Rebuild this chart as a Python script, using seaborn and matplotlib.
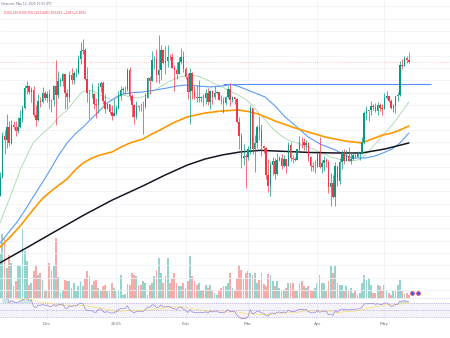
import numpy as np
import pandas as pd
import matplotlib
matplotlib.use("Agg")
import matplotlib.pyplot as plt
import seaborn as sns

sns.set_theme(style="white")
plt.rcParams['font.family'] = ['DejaVu Sans']

# ---------------- data (BTC daily, thousands USD) ----------------
start_date = "2024-11-10"
end_date = "2025-05-12"

opens = [76.6, 80.4, 88.7, 87.9, 90.5, 87.3, 91.0, 90.6, 89.8, 90.5, 92.3, 94.3, 98.4, 98.9, 97.7, 98.0, 93.0, 91.9, 95.9, 95.6, 97.5,
         96.4, 97.2, 95.8, 96.0, 98.8, 97.0, 99.9, 99.9, 101.2, 97.4, 96.6, 101.1, 100.0, 101.4, 101.4, 104.3, 106.0, 106.1, 100.2, 97.5, 97.2, 97.3, 95.2, 94.9, 98.7, 99.4, 95.8, 94.2, 95.2, 93.6, 92.8,
         93.4, 94.4, 96.9, 98.1, 98.2, 98.3, 102.1, 96.9, 95.0, 92.5, 94.7, 94.6, 94.5, 94.5, 96.5, 100.5, 99.9, 104.1, 104.4, 101.1, 102.0, 106.1, 103.6, 103.9, 104.8, 104.7, 102.6, 102.1, 101.3, 103.7, 104.7,
         102.4, 100.6, 97.7, 101.4, 97.9, 96.6, 96.5, 96.5, 96.6, 96.5, 97.4, 95.7, 97.9, 96.6, 97.5, 97.6, 96.1, 95.8, 95.5, 96.6, 98.3, 96.1, 96.6, 96.3, 91.5, 88.7, 84.3, 84.7,
         84.4, 86.0, 94.3, 86.1, 87.3, 90.6, 89.9, 86.7, 86.2, 80.7, 78.5, 82.9, 83.7, 81.1, 83.9, 84.3, 82.6, 84.0, 82.7, 86.9, 84.2, 84.1, 83.8, 86.1, 87.5, 87.4, 86.9, 87.2, 84.4, 82.6, 82.4,
         82.5, 85.2, 82.5, 83.2, 83.9, 83.5, 78.4, 79.2, 76.3, 82.6, 79.6, 83.4, 85.3, 83.7, 84.6, 83.6, 84.0, 84.9, 84.5, 85.1, 85.2, 87.5, 93.4, 93.7, 93.9, 94.7, 94.6, 93.8, 94.9, 94.3,
         94.2, 96.5, 96.9, 95.9, 94.3, 94.7, 96.8, 97.0, 103.2, 102.9, 104.6, 104.13]
highs = [81.5, 89.6, 89.9, 93.2, 91.8, 91.9, 91.8, 91.7, 92.6, 94.0, 94.9, 99.0, 99.8, 98.9, 98.6, 98.9, 94.9, 97.3, 96.6, 98.7, 97.8,
         97.9, 98.2, 96.3, 99.0, 104.1, 101.9, 100.5, 101.4, 101.2, 98.3, 101.9, 102.5, 101.9, 102.6, 105.1, 107.8, 108.3, 106.5, 102.8, 98.0, 99.5, 97.4, 96.4, 99.4, 99.9, 99.9, 97.3, 95.5, 95.2, 94.9, 96.2,
         94.9, 97.8, 98.9, 98.7, 98.8, 102.5, 102.7, 97.2, 95.3, 95.8, 95.0, 95.4, 95.9, 97.4, 100.7, 100.8, 105.9, 104.9, 106.3, 109.1, 107.2, 106.4, 106.9, 107.1, 105.3, 105.5, 103.2, 103.8, 104.8, 106.5, 106.0,
         102.8, 101.5, 102.5, 101.7, 98.8, 99.1, 100.1, 96.9, 97.3, 98.3, 98.5, 98.1, 98.0, 98.8, 97.9, 97.7, 97.0, 96.7, 96.9, 98.8, 99.5, 96.9, 96.7, 96.5, 92.5, 89.3, 87.1, 85.1,
         86.6, 95.0, 94.4, 88.9, 91.0, 92.8, 91.2, 86.9, 86.5, 84.0, 83.6, 84.4, 84.3, 85.3, 84.7, 85.0, 84.8, 84.0, 87.4, 87.4, 84.8, 84.5, 86.1, 88.8, 88.5, 88.3, 87.8, 87.5, 84.6, 83.5, 83.9,
         85.5, 88.5, 83.9, 84.7, 84.2, 83.8, 81.2, 80.9, 83.5, 82.7, 84.3, 85.9, 86.1, 85.8, 86.5, 85.5, 85.5, 85.1, 85.6, 85.3, 88.5, 93.8, 94.7, 94.0, 95.8, 95.3, 95.4, 95.6, 95.5, 95.2,
         97.4, 97.9, 96.9, 96.3, 95.2, 96.9, 97.7, 103.9, 104.3, 104.9, 105.0, 105.76]
lows = [76.5, 80.2, 85.1, 86.2, 86.7, 87.1, 90.1, 88.7, 89.4, 90.3, 91.5, 94.1, 97.2, 97.2, 95.7, 92.6, 90.8, 91.8, 94.6, 95.4, 96.0,
        95.7, 94.4, 93.6, 94.7, 91.0, 96.5, 98.9, 98.8, 94.2, 94.3, 95.7, 99.3, 99.2, 100.6, 101.2, 103.3, 105.3, 100.0, 95.7, 92.2, 96.4, 94.2, 92.4, 93.4, 97.6, 95.2, 93.3, 94.1, 93.1, 91.9, 92.7,
        92.9, 94.2, 96.0, 97.2, 97.3, 97.9, 96.1, 92.5, 91.2, 92.2, 93.8, 93.7, 89.2, 94.3, 96.5, 97.3, 99.9, 102.3, 99.6, 99.5, 100.1, 103.3, 101.2, 102.8, 104.1, 102.5, 97.8, 100.3, 101.3, 103.3, 101.6,
        100.3, 96.2, 91.2, 96.2, 96.2, 95.7, 95.7, 95.7, 94.7, 95.3, 94.9, 94.1, 95.2, 96.3, 97.3, 96.1, 95.2, 93.4, 95.1, 96.4, 94.8, 95.7, 95.3, 91.4, 86.1, 82.3, 82.8, 78.2,
        83.9, 85.0, 85.1, 81.5, 86.3, 87.8, 84.7, 85.3, 80.0, 77.4, 76.6, 80.7, 79.9, 80.8, 83.6, 82.0, 82.5, 81.2, 82.7, 83.7, 83.2, 83.7, 83.8, 85.5, 86.3, 85.9, 85.8, 83.6, 81.6, 81.6, 81.3,
        82.4, 82.3, 81.2, 81.7, 82.4, 77.2, 74.5, 76.2, 74.6, 78.5, 78.9, 82.1, 83.0, 83.7, 83.6, 83.1, 83.9, 84.3, 84.4, 83.9, 85.1, 87.1, 91.9, 91.7, 92.9, 93.9, 93.6, 92.9, 93.8, 92.9,
        94.1, 96.3, 95.7, 94.1, 93.5, 93.4, 95.9, 96.9, 102.4, 102.9, 103.5, 103.45]
closes = [80.4, 88.7, 87.9, 90.5, 87.3, 91.0, 90.6, 89.8, 90.5, 92.3, 94.3, 98.4, 98.9, 97.7, 98.0, 93.0, 91.9, 95.9, 95.6, 97.5, 96.4,
          97.2, 95.8, 96.0, 98.8, 97.0, 99.9, 99.9, 101.2, 97.4, 96.6, 101.1, 100.0, 101.4, 101.4, 104.3, 106.0, 106.1, 100.2, 97.5, 97.2, 97.3, 95.2, 94.9, 98.7, 99.4, 95.8, 94.2, 95.2, 93.6, 92.8, 93.4,
          94.4, 96.9, 98.1, 98.2, 98.3, 102.1, 96.9, 95.0, 92.5, 94.7, 94.6, 94.5, 94.5, 96.5, 100.5, 99.9, 104.1, 104.4, 101.1, 102.0, 106.1, 103.6, 103.9, 104.8, 104.7, 102.6, 102.1, 101.3, 103.7, 104.7, 102.4,
          100.6, 97.7, 101.4, 97.9, 96.6, 96.5, 96.5, 96.6, 96.5, 97.4, 95.7, 97.9, 96.6, 97.5, 97.6, 96.1, 95.8, 95.5, 96.6, 98.3, 96.1, 96.6, 96.3, 91.5, 88.7, 84.3, 84.7, 84.4,
          86.0, 94.3, 86.1, 87.3, 90.6, 89.9, 86.7, 86.2, 80.7, 78.5, 82.9, 83.7, 81.1, 83.9, 84.3, 82.6, 84.0, 82.7, 86.9, 84.2, 84.1, 83.8, 86.1, 87.5, 87.4, 86.9, 87.2, 84.4, 82.6, 82.4, 82.5,
          85.2, 82.5, 83.2, 83.9, 83.5, 78.4, 79.2, 76.3, 82.6, 79.6, 83.4, 85.3, 83.7, 84.6, 83.6, 84.0, 84.9, 84.5, 85.1, 85.2, 87.5, 93.4, 93.7, 93.9, 94.7, 94.6, 93.8, 94.9, 94.3, 94.2,
          96.5, 96.9, 95.9, 94.3, 94.7, 96.8, 97.0, 103.2, 102.9, 104.6, 104.1, 103.82]
volumes = [45, 64, 60, 30, 43, 35, 12, 17, 33, 32,
           70, 47, 37, 13, 15, 27, 33, 23, 25, 18,
           7, 7, 35, 27, 33, 60, 21, 5, 8, 18,
           17, 17, 10, 15, 7, 12, 17, 12, 20, 27,
           22, 13, 17, 18, 10, 7, 12, 13, 7, 7,
           15, 10, 7, 7, 23, 3, 4, 14, 13, 25,
           23, 22, 13, 13, 17, 15, 3, 13, 15, 22,
           28, 40, 25, 15, 22, 40, 15, 20, 25, 15,
           12, 12, 15, 10, 17, 42, 22, 17, 13, 15,
           8, 8, 13, 10, 13, 8, 5, 3, 7, 10,
           12, 12, 15, 25, 10, 7, 20, 33, 28, 20,
           25, 27, 25, 23, 25, 15, 18, 25, 14, 12,
           24, 23, 17, 12, 17, 10, 8, 8, 10, 15,
           15, 15, 8, 7, 15, 17, 12, 10, 12, 8,
           8, 10, 15, 23, 15, 15, 7, 17, 32, 25,
           32, 15, 13, 13, 8, 12, 8, 10, 5, 7,
           3, 5, 15, 23, 18, 20, 13, 5, 5, 13,
           12, 8, 13, 8, 5, 3, 7, 8, 13, 18,
           8, 4, 5, 3]

# moving averages (day index, value in thousands)
ma20_days = [0, 2.2, 4.5, 9, 12.1, 14.8, 18.8, 22.4, 26, 30, 33.6, 36.7, 39.4, 41.6, 45.7, 50.1, 52.8, 55.1, 58.2, 61.3,
             63.6, 65.8, 68.5, 71.6, 75.2, 79.2, 83.7, 88.2, 92.7, 96.2, 99.4, 103, 106.5, 109.7, 112.8, 115.5, 118.6, 121.8,
             125.3, 128.9, 132.9, 137.9, 143.2, 147.7, 153.1, 156.7, 160.3, 162.5, 164.7, 168.3, 172.3, 175.5, 178.2, 180.8, 183]
ma20_vals = [71.07, 73.71, 76.34, 81.82, 84.86, 87.3, 89.12, 90.54, 92.37, 93.99, 96.02, 97.64, 98.05, 97.84, 96.83, 96.02,
             96.63, 97.03, 96.63, 96.42, 96.63, 97.03, 97.84, 98.66, 99.67, 100.48, 101.09, 100.89, 100.08, 99.26, 98.66,
             97.84, 97.03, 96.22, 95.0, 93.58, 91.96, 90.34, 88.92, 87.9, 87.3, 86.48, 85.47, 84.46, 83.85, 83.64, 83.85,
             84.46, 85.47, 87.3, 89.32, 90.95, 92.57, 94.19, 95.61]
ma50_days = [0, 3.6, 7.6, 11.2, 14.8, 18.8, 22.4, 26, 30, 33.6, 37.2, 41.2, 44.8, 47.4, 50.1, 52.8, 55.1, 59.5, 64, 69.4,
             74.8, 79.2, 83.7, 88.6, 94, 99.4, 103.8, 107.4, 111.9, 118.6, 123.1, 127.6, 132.9, 137.9, 143.2, 150, 154.4,
             157.6, 163.4, 167.9, 171.4, 175.5, 179, 183]
ma50_vals = [67.01, 69.04, 71.27, 73.71, 76.34, 79.18, 81.82, 84.66, 87.3, 89.12, 90.54, 92.37, 93.99, 95.21, 96.02, 96.83,
             97.24, 97.54, 97.64, 98.05, 98.45, 98.86, 99.06, 98.86, 98.66, 98.86, 99.16, 98.66, 97.84, 96.63, 94.8, 92.57,
             90.54, 88.51, 87.09, 85.88, 84.86, 84.25, 84.25, 84.66, 85.27, 86.08, 87.3, 89.32]
ma100_days = [0, 4.5, 9, 14.3, 19.2, 24.6, 30, 33.6, 37.2, 41.2, 44.8, 50.1, 54.2, 58.2, 64, 68, 71.6, 77.4, 83.7, 91.8,
              99.4, 106.5, 111, 115.5, 123.1, 130.7, 137.9, 145.5, 154.4, 162, 166.5, 171.4, 175.5, 179, 183]
ma100_vals = [66.2, 68.23, 70.46, 73.5, 76.14, 78.17, 79.99, 81.82, 83.24, 84.25, 84.86, 85.47, 86.48, 87.3, 88.11, 89.12,
              89.93, 91.35, 92.57, 93.38, 93.79, 93.99, 93.69, 93.18, 91.76, 90.54, 89.53, 88.51, 87.7, 87.3, 88.11, 88.92,
              89.32, 89.93, 90.74]
ma200_days = [0, 12.5, 25, 37.6, 50.1, 64, 73.9, 83.7, 91.8, 99.4, 107.4, 116.4, 128.5, 138.8, 150, 162, 172.3, 183]
ma200_vals = [63.0, 66.2, 69.45, 72.7, 75.7, 78.6, 80.8, 82.8, 84.05, 84.86, 85.47, 85.8, 85.57, 85.37, 85.27, 85.27, 86.08, 87.3]

level_price = 99.2
level_start, level_end = "2025-02-18", "2025-05-22"

month_ticks = ["2024-12-01", "2025-01-01", "2025-02-01", "2025-03-01", "2025-04-01", "2025-05-01"]
month_labels = ["Dec", "2025", "Feb", "Mar", "Apr", "May"]

header1 = "View.com, May 12, 2025 10:03 UTC"
header2 = "O104,130 H105,756 L103,449 C103,821 \u2212309 (\u22120.30%)"

# ---------------- derived ----------------
dates = pd.date_range(start_date, end_date, freq="D")
t0 = dates[0]
day = np.array([(d - t0).days for d in dates], dtype=float)
o = np.array(opens); h = np.array(highs); l = np.array(lows); c = np.array(closes)
up = c >= o
UP, DN = "#089981", "#f23645"
VUP, VDN = "#95d4cd", "#f8aaa8"

s = pd.Series(c)
delta = s.diff()
gain = delta.clip(lower=0)
loss = -delta.clip(upper=0)
ag = gain.ewm(alpha=1/14, adjust=True).mean()
al = loss.ewm(alpha=1/14, adjust=True).mean()
rsi = 100 - 100 / (1 + ag / al)
rsi_ma = rsi.rolling(14, min_periods=1).mean()

# ---------------- figure ----------------
W, H = 450, 338
fig = plt.figure(figsize=(W/100, H/100), dpi=100)
fig.patch.set_facecolor("white")

ax = fig.add_axes([0, 1 - 298/H, 1, 298/H])
axr = fig.add_axes([0, 1 - 320/H, 1, 22/H])
axv = ax.twinx()
axv.set_zorder(ax.get_zorder() - 1)
ax.patch.set_visible(False)

xlim = (-0.045, 201.4)
ticks_d = [(pd.Timestamp(t) - t0).days for t in month_ticks]

for a in (ax, axv, axr):
    a.set_xlim(*xlim)
    for sp in a.spines.values():
        sp.set_visible(False)
    a.tick_params(left=False, right=False, bottom=False, top=False, length=0,
                  labelleft=False, labelright=False, labelbottom=False)

# grid
grid_c = "#f0f3fa"
for td in ticks_d:
    ax.axvline(td, color=grid_c, lw=0.6, zorder=0)
    axr.axvline(td, color=grid_c, lw=0.6, zorder=0)
for p in np.arange(57.5, 116, 2.5):
    ax.axhline(p, color=grid_c, lw=0.6, zorder=0)

# volume
axv.set_ylim(0, 298)
axv.bar(day, volumes, width=0.8, color=np.where(up, VUP, VDN), linewidth=0)
axv.scatter([184.6, 187.0], [5, 5], s=9, facecolor="#f8aaa8", edgecolor="#f23645", linewidth=0.4, zorder=3)
axv.scatter([184.6, 187.0], [5, 5], s=2, color="#2962ff", zorder=4)
axv.set_yticks([])

# price
ax.set_ylim(55.85, 116.3)
ax.vlines(day, l, h, colors=np.where(up, UP, DN), lw=0.5, zorder=3)
body = np.maximum(np.abs(c - o), 0.12)
ax.bar(day, body, bottom=np.minimum(o, c), width=0.65, color=np.where(up, UP, DN), linewidth=0, zorder=4)

for dd, vv, col, lw in [(ma20_days, ma20_vals, "#a8d8a8", 0.6),
                        (ma50_days, ma50_vals, "#5b9cf6", 0.8),
                        (ma100_days, ma100_vals, "#ff9800", 1.2),
                        (ma200_days, ma200_vals, "#131722", 1.1)]:
    ma = pd.DataFrame({"d": dd, "v": vv})
    sns.lineplot(data=ma, x="d", y="v", ax=ax, color=col, lw=lw, zorder=2)

ls = (pd.Timestamp(level_start) - t0).days
le = (pd.Timestamp(level_end) - t0).days
ax.hlines(level_price, ls, le, color="#5b8def", lw=0.8, zorder=2)
ax.axhline(c[-1], color="#f23645", lw=0.5, ls=(0, (1, 2)), alpha=0.5, zorder=1)
ax.set_xlabel(""); ax.set_ylabel("")
ax.set_xlim(*xlim)

# RSI pane
axr.set_ylim(21.4, 84.3)
axr.axhspan(30, 70, color="#7e57c2", alpha=0.07, lw=0)
for lvl in (70, 50, 30):
    axr.axhline(lvl, color="#9c8ad0", lw=0.4, ls=(0, (2, 2)))
rd = pd.DataFrame({"d": day, "rsi": rsi, "ma": rsi_ma})
axr.fill_between(day, rsi, 70, where=rsi > 70, interpolate=True, color="#26a69a", alpha=0.25, lw=0)
axr.fill_between(day, rsi, 30, where=rsi < 30, interpolate=True, color="#f23645", alpha=0.2, lw=0)
sns.lineplot(data=rd, x="d", y="ma", ax=axr, color="#f5df6b", lw=0.5)
sns.lineplot(data=rd, x="d", y="rsi", ax=axr, color="#9b89dc", lw=0.5)
axr.set_xlabel(""); axr.set_ylabel("")
axr.set_xlim(*xlim)
axr.spines["top"].set_visible(True)
axr.spines["top"].set_color("#e0e3eb")
axr.spines["top"].set_linewidth(0.5)
axr.set_xticks(ticks_d)
axr.set_xticklabels(month_labels)
axr.tick_params(labelbottom=True, labelsize=3.2, labelcolor="#787b86", pad=1.5, length=0)
axr.set_yticks([])

fig.text(0.002, 1 - 4.5/H, header1, fontsize=2.1, color="#6a6d78", va="center", ha="left")
fig.text(0.008, 1 - 12.5/H, header2, fontsize=2.1, color="#f23645", va="center", ha="left")

fig.savefig("out.png", dpi=100, facecolor="white")
